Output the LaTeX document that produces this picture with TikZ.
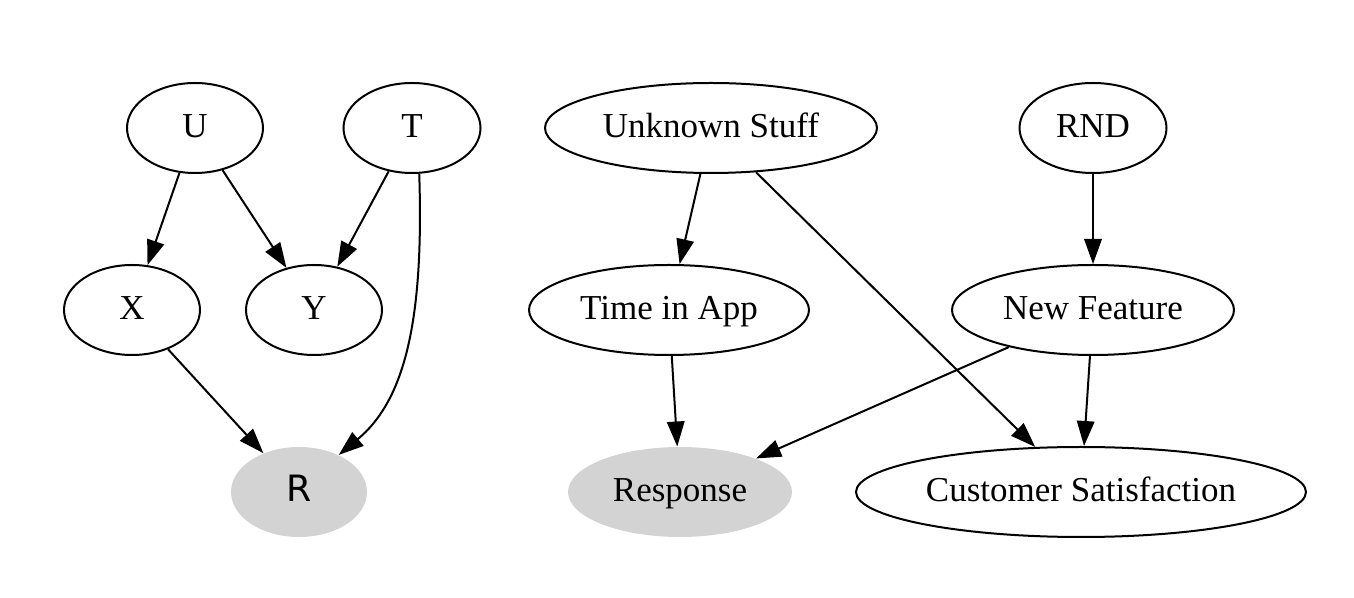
\documentclass[tikz,border=0pt]{standalone}
\usepackage{fontspec}
\setmainfont{Liberation Serif}
\newfontfamily\rfont{DejaVu Sans}
\usetikzlibrary{shapes.geometric,arrows.meta}
\definecolor{nodegray}{HTML}{D3D3D3}
\tikzset{
  gnode/.style={ellipse, draw, line width=0.8pt, inner sep=0pt, minimum height=36pt,
    text height=10.5pt, text depth=3pt,
    font=\fontsize{14pt}{16pt}\selectfont},
  gfilled/.style={ellipse, fill=nodegray, draw=none, inner sep=0pt, minimum height=36pt,
    text height=10.5pt, text depth=3pt,
    font=\fontsize{14pt}{16pt}\selectfont},
  edge/.style={line width=0.8pt, -{Triangle[length=10pt,width=7pt]}}
}
\begin{document}
\begin{tikzpicture}[x=0.4pt,y=-0.4pt]
\useasboundingbox (0,0) rectangle (1354,598);
% left graph
\node[gnode, minimum width=54.4pt] (U) at (195,128) {U};
\node[gnode, minimum width=54.8pt] (T) at (412,128) {T};
\node[gnode, minimum width=54.4pt] (X) at (132,310) {X};
\node[gnode, minimum width=54.4pt] (Y) at (314,310) {Y};
\node[gfilled, minimum width=54.4pt, font=\rfont\fontsize{14.5pt}{16pt}\selectfont] (R) at (299,492) {R};
% right graph
\node[gnode, minimum width=132.8pt] (US) at (711,128) {Unknown Stuff};
\node[gnode, minimum width=58.8pt] (RND) at (1093,128) {RND};
\node[gnode, minimum width=112pt] (TA) at (669,310) {Time in App};
\node[gnode, minimum width=112.8pt] (NF) at (1093,310) {New Feature};
\node[gfilled, minimum width=89.6pt] (RS) at (680,492) {Response};
\node[gnode, minimum width=180pt] (CS) at (1081,492) {Customer Satisfaction};
% edges
\draw[edge] (U) -- (X);
\draw[edge] (U) -- (Y);
\draw[edge] (T) -- (Y);
\draw[edge] (X) -- (R);
\draw[edge] (T.-81) .. controls (424,320) and (405,400) .. (R.43);
\draw[edge] (US) -- (TA);
\draw[edge] (US) -- (CS);
\draw[edge] (RND) -- (NF);
\draw[edge] (TA) -- (RS);
\draw[edge] (NF) -- (RS);
\draw[edge] (NF) -- (CS);
\end{tikzpicture}
\end{document}
